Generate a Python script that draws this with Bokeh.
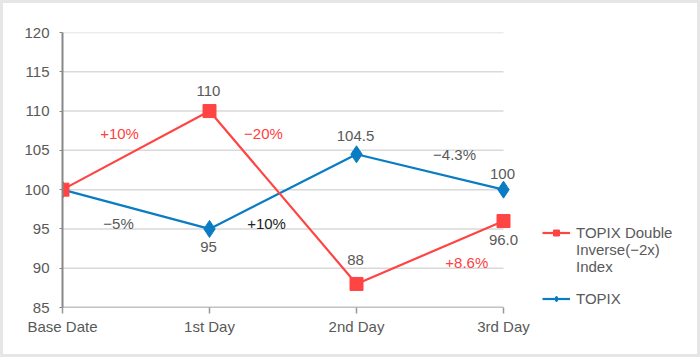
from bokeh.plotting import figure
from bokeh.models import Range1d, FixedTicker, Legend, LegendItem, ColumnDataSource
from bokeh.core.properties import value
from bokeh.embed import file_html
from bokeh.resources import INLINE

categories = ["Base Date", "1st Day", "2nd Day", "3rd Day"]
double_inverse = [100, 110, 88, 96.0]
topix = [100, 95, 104.5, 100]
y_ticks = [85, 90, 95, 100, 105, 110, 115, 120]

# data labels: (x position, y position, text, color)
label_x = [0.993, 0.388, 1.367, 1.993, 2.667, 2.993, 0.381, 0.993, 1.388, 1.993, 3.0, 2.75]
label_y = [112.5, 107.1, 107.1, 106.8, 104.5, 102.05, 95.7, 92.76, 95.7, 91.1, 93.65, 90.7]
label_text = ["110", "+10%", "\u221220%", "104.5", "\u22124.3%", "100",
              "\u22125%", "95", "+10%", "88", "96.0", "+8.6%"]
label_color = ["#595959", "#ff4040", "#ff4040", "#595959", "#595959", "#595959",
               "#595959", "#595959", "#222222", "#595959", "#595959", "#ff4040"]

RED = "#ff4444"
BLUE = "#0a7cc4"
FONT = "Liberation Sans"

xs = list(range(len(categories)))
last = xs[-1]

BORDER = 3
W, H = 700 - 2 * BORDER, 357 - 2 * BORDER
LEFT, TOP, BOTTOM = 62 - BORDER, 32 - BORDER, 357 - 307 - BORDER
PX_PER_CAT = 147
frame_w = W - LEFT
x_end = frame_w / PX_PER_CAT

p = figure(width=W, height=H, frame_width=frame_w, frame_height=H - TOP - BOTTOM,
           output_backend="svg", toolbar_location=None,
           x_range=Range1d(0, x_end), y_range=Range1d(85, 120),
           min_border_left=LEFT, min_border_right=0, min_border_top=TOP, min_border_bottom=BOTTOM)
p.outline_line_color = None
p.background_fill_color = "white"
p.border_fill_color = "white"
p.styles = {"border": f"{BORDER}px solid #e6e6e6"}

p.xgrid.visible = False
p.ygrid.visible = False
# horizontal gridlines only across the category span
p.segment(x0=[0] * len(y_ticks), x1=[last] * len(y_ticks), y0=y_ticks, y1=y_ticks,
          line_color="#d9d9d9", line_width=1.5)
# x axis baseline
p.segment(x0=[0], x1=[last], y0=[y_ticks[0]], y1=[y_ticks[0]],
          line_color="#999999", line_width=1.5)

p.yaxis.ticker = FixedTicker(ticks=y_ticks)
p.yaxis.axis_line_color = "#888888"
p.yaxis.axis_line_width = 2
p.yaxis.major_tick_line_color = "#888888"
p.yaxis.major_tick_out = 3
p.yaxis.major_tick_in = 0
p.yaxis.minor_tick_line_color = None
p.yaxis.major_label_text_font = FONT
p.yaxis.major_label_text_font_size = "15px"
p.yaxis.major_label_text_color = "#595959"
p.yaxis.major_label_standoff = 10

p.xaxis.ticker = FixedTicker(ticks=xs)
p.xaxis.major_label_overrides = {i: c for i, c in enumerate(categories)}
p.xaxis.axis_line_color = None
p.xaxis.major_tick_line_color = "#999999"
p.xaxis.major_tick_line_width = 1.5
p.xaxis.major_tick_out = 6
p.xaxis.major_tick_in = 0
p.xaxis.minor_tick_line_color = None
p.xaxis.major_label_text_font = FONT
p.xaxis.major_label_text_font_size = "15px"
p.xaxis.major_label_text_color = "#595959"
p.xaxis.major_label_standoff = 4

b_line = p.line(xs, topix, line_color=BLUE, line_width=2.2)
b_mark = p.scatter(xs, topix, marker="diamond", size=17, fill_color=BLUE, line_color=BLUE)
r_line = p.line(xs, double_inverse, line_color=RED, line_width=2.2)
r_mark = p.scatter(xs, double_inverse, marker="square", size=13, fill_color=RED, line_color=RED)

src = ColumnDataSource(dict(x=label_x, y=label_y, t=label_text, c=label_color))
p.text(x="x", y="y", text="t", text_color="c", source=src, text_font=value(FONT),
       text_font_size="15px", text_align="center", text_baseline="middle")

dummy = p.line([], [], line_alpha=0)
legend = Legend(items=[
    LegendItem(label="TOPIX Double", renderers=[r_line, r_mark]),
    LegendItem(label="Inverse(\u22122x)", renderers=[dummy]),
    LegendItem(label="Index", renderers=[dummy]),
    LegendItem(label=" ", renderers=[dummy]),
    LegendItem(label="TOPIX", renderers=[b_line, b_mark]),
], location=(480, 0), orientation="vertical")
legend.border_line_color = None
legend.background_fill_alpha = 0
legend.label_text_font = FONT
legend.label_text_font_size = "15px"
legend.label_text_color = "#595959"
legend.glyph_width = 28
legend.glyph_height = 15
legend.label_height = 15
legend.label_standoff = 6
legend.spacing = 0
legend.padding = 0
legend.margin = 0
p.add_layout(legend)

open("out.html", "w").write(file_html(p, INLINE))
